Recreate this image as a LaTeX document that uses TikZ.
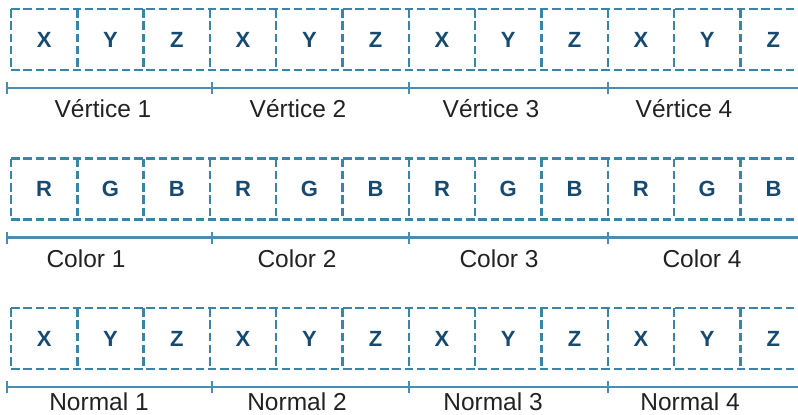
\documentclass[tikz,border=0pt]{standalone}
\usepackage{fontspec}
\setmainfont{Liberation Sans}
\definecolor{boxc}{HTML}{3A84A8}
\definecolor{letc}{HTML}{174A70}
\definecolor{barc}{HTML}{4A8DB0}
\definecolor{labc}{HTML}{222222}
\begin{document}
\begin{tikzpicture}[x=1pt,y=-1pt,
  cell/.style={minimum width=66.3pt, minimum height=61pt, inner sep=0pt, outer sep=0pt,
    text=letc, font=\fontsize{22}{22}\selectfont\bfseries},
  dline/.style={draw=boxc, line width=2.4pt, dash pattern=on 8.5pt off 3.8pt},
  barline/.style={draw=barc, line width=2.2pt},
  lab/.style={text=labc, font=\fontsize{24.5}{25}\selectfont, inner sep=0pt, anchor=base}]
\useasboundingbox (0,0) rectangle (798,415);
\clip (0,0) rectangle (798,415);
\foreach \r/\t/\la/\lb/\lc in {1/9/X/Y/Z, 2/158.5/R/G/B, 3/308/X/Y/Z} {
  \foreach \k in {0,...,3} {
    \foreach \L [count=\j from 0] in {\la,\lb,\lc} {
      \pgfmathtruncatemacro\i{3*\k+\j}
      \node[cell, anchor=north west] (c\r-\i) at ({11+66.3*\i},\t) {\L};
    }
  }
  \draw[dline] (c\r-0.north west) -- (c\r-11.north east);
  \draw[dline] (c\r-0.south west) -- (c\r-11.south east);
  \foreach \i in {0,...,11} {
    \draw[dline] (c\r-\i.north west) -- (c\r-\i.south west);
  }
  % scale bar
  \coordinate (b\r-0) at (7,\t+79);
  \coordinate (b\r-1) at (212,\t+79);
  \coordinate (b\r-2) at (409,\t+79);
  \coordinate (b\r-3) at (608,\t+79);
  \coordinate (b\r-e) at (800,\t+79);
  \draw[barline] (b\r-0) -- (b\r-e);
  \foreach \k in {0,...,3} {
    \draw[barline, line width=1.6pt] ([yshift=-6pt]b\r-\k) -- ([yshift=6pt]b\r-\k);
  }
}
\node[lab] (v1) at (103,117) {Vértice 1};
\node[lab] (v2) at (298,117) {Vértice 2};
\node[lab] (v3) at (491,117) {Vértice 3};
\node[lab] (v4) at (684,117) {Vértice 4};
\node[lab] (k1) at (86,267) {Color 1};
\node[lab] (k2) at (297,267) {Color 2};
\node[lab] (k3) at (499,267) {Color 3};
\node[lab] (k4) at (702,267) {Color 4};
\node[lab] (n1) at (99,410) {Normal 1};
\node[lab] (n2) at (297,410) {Normal 2};
\node[lab] (n3) at (493,410) {Normal 3};
\node[lab] (n4) at (690,410) {Normal 4};
\end{tikzpicture}
\end{document}
